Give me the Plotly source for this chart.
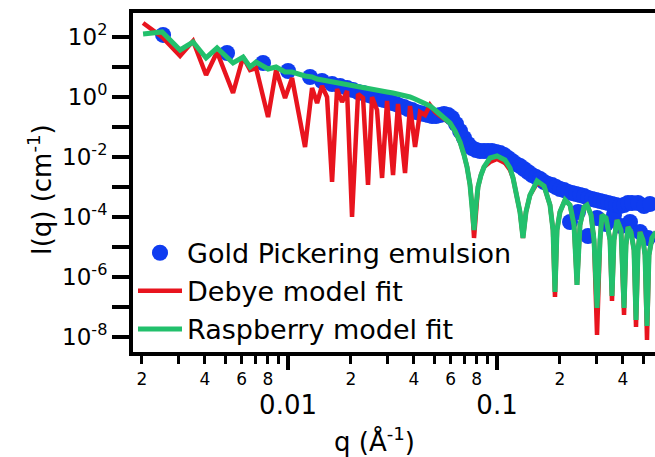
import plotly.graph_objects as go

# ---------------- data ----------------
q_data = [0.002523, 0.005106, 0.007592, 0.0100, 0.01274, 0.01454, 0.01624, 0.01774,
          0.01916, 0.02046, 0.02162, 0.02285, 0.02414, 0.02523, 0.02637, 0.02755,
          0.02879, 0.03009, 0.03145, 0.03287, 0.03435, 0.03589, 0.03751, 0.03920,
          0.04097, 0.04281, 0.04474, 0.04676, 0.04887, 0.05107, 0.05337, 0.05577,
          0.05830, 0.06092, 0.06366, 0.06653, 0.06952, 0.07264, 0.07593, 0.07934,
          0.08292, 0.08665, 0.09056, 0.09465, 0.09890, 0.1034, 0.1080, 0.1129,
          0.1180, 0.1233, 0.1288, 0.1346, 0.1407, 0.1471, 0.1537, 0.1606,
          0.1679, 0.1754, 0.1833, 0.1916, 0.2001, 0.2092, 0.2186, 0.2235,
          0.2285, 0.2388, 0.2441, 0.2495, 0.2608, 0.2725, 0.2725, 0.2848,
          0.2976, 0.3010, 0.3111, 0.3251, 0.3323, 0.3397, 0.3550, 0.3629,
          0.3710, 0.3877, 0.3920, 0.4053, 0.4235, 0.4330, 0.4426, 0.4728,
          0.4834, 0.5051, 0.5278, 0.5396]
I_data = [117, 29.3, 13.6, 7.36, 4.64, 3.41, 2.71, 2.33,
          2.0, 1.71, 1.47, 1.36, 1.17, 1.08, 1.0, 0.858,
          0.794, 0.736, 0.631, 0.585, 0.501, 0.464, 0.398, 0.369,
          0.316, 0.293, 0.271, 0.251, 0.233, 0.233, 0.251, 0.271,
          0.251, 0.2, 0.126, 0.0736, 0.043, 0.0271, 0.02, 0.0171,
          0.0158, 0.0158, 0.0158, 0.0158, 0.0147, 0.0136, 0.0117, 0.00926,
          0.00736, 0.00585, 0.00501, 0.00398, 0.00316, 0.00251, 0.00215, 0.00185,
          0.00147, 0.00126, 0.00117, 1.0e-3, 8.58e-4, 7.94e-4, 6.81e-4, 6.81e-5,
          6.31e-4, 5.85e-4, 1.47e-4, 5.41e-4, 5.01e-4, 4.3e-4, 2.33e-5, 3.98e-4,
          3.69e-4, 9.26e-5, 3.41e-4, 3.16e-4, 5.85e-5, 2.93e-4, 2.71e-4, 1.17e-4,
          2.51e-4, 2.33e-4, 5.01e-5, 2.51e-4, 2.93e-4, 6.81e-5, 2.93e-4, 2.93e-4,
          3.16e-5, 2.33e-4, 2.0e-5, 2.71e-4]

q_fit = [0.002024, 0.002495, 0.003043, 0.003511, 0.004052, 0.004574, 0.005454, 0.006091,
         0.006578, 0.007028, 0.008023, 0.008762, 0.009675, 0.01045, 0.01206, 0.01303,
         0.01377, 0.01454, 0.01537, 0.01624, 0.01716, 0.01813, 0.01916, 0.02024,
         0.02162, 0.02285, 0.02414, 0.02523, 0.02666, 0.02818, 0.02977, 0.03180,
         0.03360, 0.03629, 0.03835, 0.04053, 0.04281, 0.04524, 0.04780, 0.05050,
         0.05337, 0.05639, 0.05958, 0.06295, 0.06653, 0.06952, 0.07186, 0.07427,
         0.07593, 0.07762, 0.07934, 0.08111, 0.08383, 0.08665, 0.09258, 0.1000,
         0.1092, 0.1154, 0.1193, 0.1246, 0.1288, 0.1331, 0.1376, 0.1438,
         0.1554, 0.1679, 0.1793, 0.1853, 0.1894, 0.1937, 0.2001, 0.2115,
         0.2235, 0.2336, 0.2414, 0.2495, 0.2608, 0.2695, 0.2818, 0.2912,
         0.3010, 0.3111, 0.3180, 0.3323, 0.3473, 0.3550, 0.3629, 0.3751,
         0.3920, 0.4053, 0.4142, 0.4235, 0.4377, 0.4524, 0.4625, 0.4728,
         0.4834, 0.4996, 0.5107, 0.5221, 0.5337, 0.5515, 0.5764]
I_debye = [293, 100, 23.3, 73.6, 5.41, 31.6, 1.36, 21.5,
           7.94, 9.26, 0.215, 7.94, 0.926, 4.30, 0.0215, 2.0,
           0.631, 2.33, 1.0, 0.00147, 1.85, 0.681, 1.58, 1.0e-4,
           1.26, 0.926, 0.00117, 1.0, 0.369, 0.002, 0.736, 0.00251,
           0.585, 0.00293, 0.501, 0.0215, 0.316, 0.251, 0.541, 0.316,
           0.233, 0.185, 0.136, 0.0736, 0.0316, 0.0117, 0.00464, 0.00117,
           2.51e-4, 2.0e-5, 2.51e-4, 1.0e-3, 0.00251, 0.00464, 0.00681, 0.00858,
           0.00631, 0.00369, 0.002, 5.41e-4, 1.47e-4, 2.0e-5, 1.47e-4, 5.41e-4,
           0.00136, 0.00108, 2.51e-4, 3.69e-5, 2.15e-7, 3.69e-5, 1.47e-4, 3.69e-4,
           2.51e-4, 5.41e-5, 5.41e-7, 5.41e-5, 2.15e-4, 2.51e-4, 1.17e-4, 1.71e-5,
           1.17e-8, 1.71e-5, 1.17e-4, 9.26e-5, 1.71e-5, 1.58e-7, 1.71e-5, 7.94e-5,
           3.69e-5, 5.41e-8, 1.17e-5, 4.64e-5, 3.16e-5, 7.94e-6, 2.15e-8, 7.94e-6,
           3.16e-5, 1.71e-5, 5.41e-6, 7.94e-9, 5.41e-6, 2.0e-5, 3.16e-5]
I_rasp = [126, 147, 36.9, 68.1, 20.0, 43.0, 13.6, 21.5,
          10.0, 14.7, 8.58, 10.0, 6.81, 6.81, 5.01, 4.64,
          3.98, 3.69, 3.41, 3.16, 2.93, 2.71, 2.51, 2.33,
          2.15, 2.0, 1.85, 1.78, 1.71, 1.58, 1.47, 1.36,
          1.26, 1.08, 1.0, 0.858, 0.736, 0.631, 0.501, 0.369,
          0.271, 0.2, 0.136, 0.0736, 0.0316, 0.0117, 0.00464, 0.00117,
          2.51e-4, 3.69e-5, 2.51e-4, 1.0e-3, 0.00251, 0.00464, 0.00926, 0.0108,
          0.00794, 0.0043, 0.002, 5.41e-4, 1.47e-4, 2.0e-5, 1.47e-4, 5.41e-4,
          0.00158, 0.00108, 2.51e-4, 3.69e-5, 3.16e-7, 3.69e-5, 1.47e-4, 3.69e-4,
          2.51e-4, 5.41e-5, 5.41e-7, 5.41e-5, 2.15e-4, 2.51e-4, 1.17e-4, 1.71e-5,
          9.26e-8, 1.71e-5, 1.17e-4, 9.26e-5, 1.71e-5, 2.33e-7, 1.71e-5, 7.94e-5,
          3.69e-5, 9.26e-8, 1.17e-5, 4.64e-5, 3.16e-5, 7.94e-6, 3.69e-8, 7.94e-6,
          3.16e-5, 1.71e-5, 5.41e-6, 2.33e-8, 5.41e-6, 2.0e-5, 3.16e-5]

series_names = ["Gold Pickering emulsion", "Debye model fit", "Raspberry model fit"]

x_minor_ticks = [0.002, 0.003, 0.004, 0.005, 0.006, 0.007, 0.008, 0.009,
                 0.02, 0.03, 0.04, 0.05, 0.06, 0.07, 0.08, 0.09,
                 0.2, 0.3, 0.4, 0.5]
x_minor_labels = ["2", "", "4", "", "6", "", "8", "",
                  "2", "", "4", "", "6", "", "8", "",
                  "2", "", "4", ""]
x_major_ticks = [0.01, 0.1]
x_major_labels = ["0.01", "0.1"]
y_ticks = [1e-8, 1e-7, 1e-6, 1e-5, 1e-4, 1e-3, 1e-2, 1e-1, 1e0, 1e1, 1e2]
y_labels = ["10<sup>-8</sup>", "", "10<sup>-6</sup>", "", "10<sup>-4</sup>", "",
            "10<sup>-2</sup>", "", "10<sup>0</sup>", "", "10<sup>2</sup>"]

x_range_log = [-2.742, -0.244]
y_range_log = [-8.5, 2.8]

BLUE = "#0f3cf0"
RED = "#e8141e"
GREEN = "#22c06c"
FONT = "DejaVu Sans"

fig = go.Figure()
fig.add_trace(go.Scatter(x=q_data, y=I_data, mode="markers", name=series_names[0],
                         marker=dict(color=BLUE, size=16, line=dict(width=0))))
fig.add_trace(go.Scatter(x=q_fit, y=I_debye, mode="lines", name=series_names[1],
                         line=dict(color=RED, width=4.5)))
fig.add_trace(go.Scatter(x=q_fit, y=I_rasp, mode="lines", name=series_names[2],
                         line=dict(color=GREEN, width=5)))
# carrier for the overlaid major-tick axis (invisible)
fig.add_trace(go.Scatter(x=q_fit[:1], y=I_rasp[:1], xaxis="x2", mode="lines",
                         line=dict(width=0), showlegend=False, hoverinfo="skip"))

fig.update_layout(
    width=655, height=457,
    margin=dict(l=133, r=0, t=13, b=105),
    paper_bgcolor="white", plot_bgcolor="white",
    font=dict(family=FONT, color="black"),
    showlegend=True,
    legend=dict(x=0.0, y=-0.005, xanchor="left", yanchor="bottom",
                bgcolor="rgba(0,0,0,0)", font=dict(size=27, family=FONT),
                tracegroupgap=0, itemwidth=44),
    xaxis=dict(type="log", range=x_range_log, showgrid=False, zeroline=False,
               showline=True, linewidth=4, linecolor="black", mirror=True,
               ticks="outside", tickvals=x_minor_ticks, ticktext=x_minor_labels,
               ticklen=8, tickwidth=3, tickcolor="black",
               tickfont=dict(size=17), ticklabelstandoff=1),
    xaxis2=dict(type="log", range=x_range_log, overlaying="x", anchor="y",
                side="bottom", showgrid=False, zeroline=False, showline=False,
                ticks="outside", tickvals=x_major_ticks, ticktext=x_major_labels,
                ticklen=17, tickwidth=4, tickcolor="black",
                tickfont=dict(size=26), ticklabelstandoff=13),
    yaxis=dict(type="log", range=y_range_log, showgrid=False, zeroline=False,
               showline=True, linewidth=4, linecolor="black", mirror=False,
               ticks="outside", tickvals=y_ticks, ticktext=y_labels,
               ticklen=17, tickwidth=4, tickcolor="black",
               tickfont=dict(size=23)),
    annotations=[
        dict(text="q (Å<sup>-1</sup>)", xref="paper", yref="paper",
             x=0.4617, y=-0.26, xanchor="center", yanchor="middle",
             showarrow=False, font=dict(size=26, family=FONT)),
        dict(text="I(q) (cm<sup>-1</sup>)", xref="paper", yref="paper",
             x=-0.178, y=0.478, xanchor="center", yanchor="middle", textangle=-90,
             showarrow=False, font=dict(size=26, family=FONT)),
    ],
)

fig.write_html("out.html")
